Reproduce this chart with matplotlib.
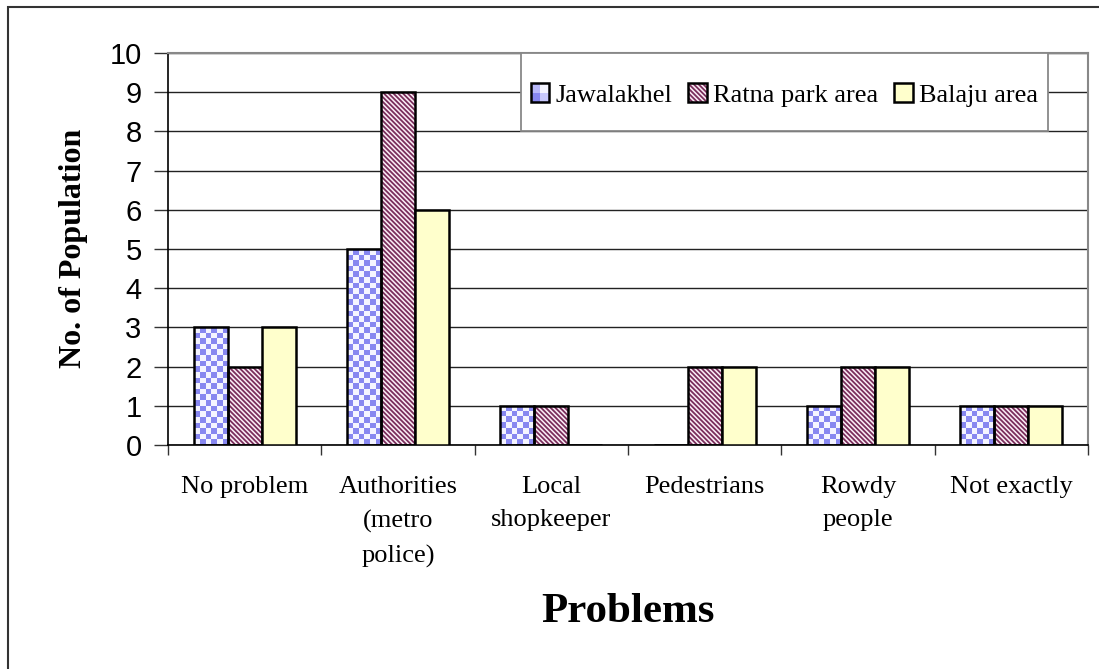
import numpy as np
import matplotlib.pyplot as plt
from matplotlib.patches import Rectangle
from matplotlib.legend_handler import HandlerBase

problems = ['No problem', 'Authorities\n(metro\npolice)', 'Local\nshopkeeper',
            'Pedestrians', 'Rowdy\npeople', 'Not exactly']
jawalakhel = [3, 5, 1, 0, 1, 1]
ratna_park = [2, 9, 1, 2, 2, 1]
balaju = [3, 6, 0, 2, 2, 1]

series_names = ['Jawalakhel', 'Ratna park area', 'Balaju area']

CHECK_BLUE = '#8787f0'
CHECK_WHITE = '#f4f4ff'
STRIPE = '#7a2e5c'
YELLOW = '#ffffcc'

serif = ['Liberation Serif', 'DejaVu Serif']
sans = ['Liberation Sans', 'DejaVu Sans']


def hex_rgb(c):
    return np.array([int(c[i:i + 2], 16) for i in (1, 3, 5)]) / 255


fig = plt.figure(figsize=(10.99, 6.69), dpi=100)
ax = fig.add_axes([168 / 1099, 1 - 445 / 669, 920 / 1099, 392 / 669])

x = np.arange(len(problems))
w = 0.222

# grid behind bars
ax.set_axisbelow(True)
ax.yaxis.grid(True, color='#222222', lw=1)

# Jawalakhel: checkerboard fill clipped to each bar
bars_j = ax.bar(x - w, jawalakhel, w, facecolor='none', edgecolor='black', lw=1.8, zorder=3)
for b, v in zip(bars_j, jawalakhel):
    if v == 0:
        continue
    nx_ = 6
    ny_ = max(1, int(round(v * 39.2 / 5.6)))
    checker = np.add.outer(np.arange(ny_), np.arange(nx_)) % 2
    img = np.zeros((ny_, nx_, 3))
    img[checker == 1] = hex_rgb(CHECK_BLUE)
    img[checker == 0] = hex_rgb(CHECK_WHITE)
    x0 = b.get_x()
    im = ax.imshow(img, extent=(x0, x0 + b.get_width(), 0, v), aspect='auto',
                   interpolation='nearest', origin='upper', zorder=2)
    im.set_clip_path(b)

# Ratna park: diagonal stripes
plt.rcParams['hatch.linewidth'] = 1.3
ax.bar(x, ratna_park, w, facecolor='#fbeef6', edgecolor=STRIPE, hatch='\\' * 7, lw=0, zorder=2)
ax.bar(x, ratna_park, w, facecolor='none', edgecolor='black', lw=1.8, zorder=3)

# Balaju: plain light yellow
ax.bar(x + w, balaju, w, facecolor=YELLOW, edgecolor='black', lw=1.8, zorder=3)

ax.set_xlim(-0.5, len(problems) - 0.5)
ax.set_ylim(0, 10)
ax.set_yticks(range(0, 11))
ax.set_yticklabels([str(i) for i in range(0, 11)], family=sans, fontsize=21)
ax.set_xticks(np.arange(len(problems) + 1) - 0.5)
ax.set_xticklabels([])
ax.set_xticks(x, minor=True)
ax.set_xticklabels(problems, minor=True, family=serif, fontsize=19, linespacing=1.68,
                   va='top')
ax.tick_params(axis='x', which='major', direction='out', length=7, width=1, color='#333333')
ax.tick_params(axis='x', which='minor', length=0, pad=22)
ax.tick_params(axis='y', direction='out', length=10, width=1, pad=9, color='#333333')

for s in ['left', 'bottom']:
    ax.spines[s].set_color('black')
    ax.spines[s].set_linewidth(1.2)
for s in ['right', 'top']:
    ax.spines[s].set_color('#888888')
    ax.spines[s].set_linewidth(1.5)


class CheckerHandler(HandlerBase):
    def create_artists(self, legend, orig_handle, xdescent, ydescent, width, height,
                       fontsize, trans):
        arts = []
        hw, hh = width / 2, height / 2
        cols = [['#b8b8fa', CHECK_WHITE], [CHECK_BLUE, '#c8c8fc']]
        for r in range(2):
            for c in range(2):
                arts.append(Rectangle((-xdescent + c * hw, -ydescent + (1 - r) * hh), hw, hh,
                                      facecolor=cols[r][c], edgecolor='none', transform=trans))
        arts.append(Rectangle((-xdescent, -ydescent), width, height, facecolor='none',
                              edgecolor='black', lw=1.8, transform=trans))
        return arts


class StripeHandler(HandlerBase):
    def create_artists(self, legend, orig_handle, xdescent, ydescent, width, height,
                       fontsize, trans):
        p1 = Rectangle((-xdescent, -ydescent), width, height, facecolor='#fbeef6',
                       edgecolor=STRIPE, hatch='\\' * 7, lw=0, transform=trans)
        p2 = Rectangle((-xdescent, -ydescent), width, height, facecolor='none',
                       edgecolor='black', lw=1.8, transform=trans)
        return [p1, p2]


h_j = Rectangle((0, 0), 1, 1)
h_r = Rectangle((0, 0), 1, 1)
h_b = Rectangle((0, 0), 1, 1, facecolor=YELLOW, edgecolor='black', lw=1.8)

# legend frame drawn as its own box
lx0 = (521 - 168) / 920
lx1 = (1048 - 168) / 920
ly0 = (445 - 131) / 392
ax.add_patch(Rectangle((lx0, ly0), lx1 - lx0, 1 - ly0, transform=ax.transAxes,
                       facecolor='white', edgecolor='#888888', lw=1.3, zorder=5))
leg = ax.legend([h_j, h_r, h_b], series_names, loc='center',
                bbox_to_anchor=(lx0, ly0 - 0.008, lx1 - lx0, 1 - ly0),
                ncol=3, frameon=False, prop={'family': serif, 'size': 19},
                handlelength=0.7, handleheight=0.7, handletextpad=0.25,
                columnspacing=0.6, borderaxespad=0,
                handler_map={h_j: CheckerHandler(), h_r: StripeHandler()})
leg.set_zorder(6)

fig.text(74 / 1099, 1 - 248 / 669, 'No. of Population', rotation=90, ha='center',
         va='center', family=serif, fontsize=23, fontweight='bold')
fig.text(628 / 1099, 1 - 612 / 669, 'Problems', ha='center', va='center',
         family=serif, fontsize=31, fontweight='bold')

# outer chart border
fig.patches.append(Rectangle((8 / 1099, -0.1), 1.2, 1 - 7 / 669 + 0.1,
                             transform=fig.transFigure, fill=False,
                             edgecolor='#333333', lw=1.5))

fig.savefig('out.png', dpi=100)
